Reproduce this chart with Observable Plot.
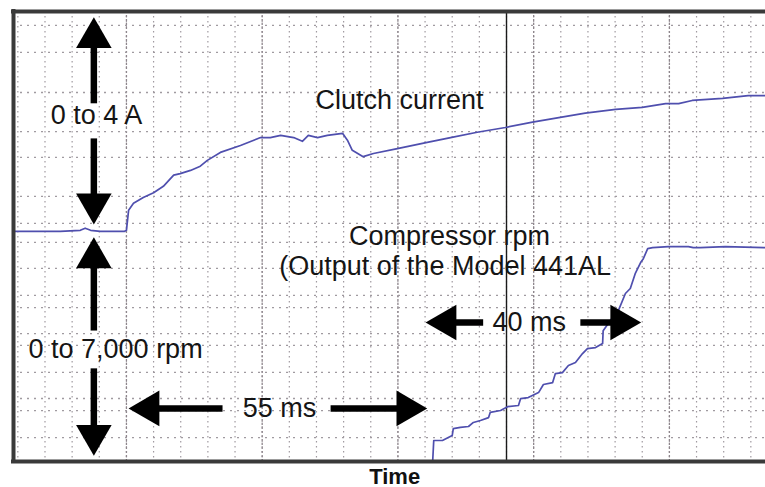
<!DOCTYPE html>
<html><head><meta charset="utf-8">
<script src="https://cdn.jsdelivr.net/npm/d3@7"></script>
<script src="https://cdn.jsdelivr.net/npm/@observablehq/plot@0.6"></script>
<style>html,body{margin:0;padding:0;background:#fff}</style>
</head><body><div id="chart"></div>
<script>
// ---- Trace data (time in ms, 0 = clutch energised) ----
const currentTime = [-20.8, -12.2, -8.5, -7.6, -6.6, -4.8, -0.4, 0, 0.4, 1.3, 3.1, 5.0, 6.8, 8.7, 9.9, 11.8, 13.6, 14.9, 17.3, 21.0, 24.7, 26.5, 28.4, 30.8, 32.4, 33.5, 35.2, 37.0, 39.8, 40.7, 41.6, 43.6, 45.5, 49.9, 55.4, 59.7, 64.6, 69.8, 74.8, 79.9, 84.5, 90.1, 95.0, 99.3, 101.7, 104.2, 109.8, 114.5, 117.7];
const currentAmps = [0.02, 0.02, 0.04, 0.08, 0.04, 0.02, 0.02, 0.04, 0.42, 0.55, 0.66, 0.75, 0.87, 1.08, 1.11, 1.17, 1.25, 1.36, 1.51, 1.64, 1.79, 1.79, 1.83, 1.79, 1.72, 1.83, 1.79, 1.83, 1.87, 1.74, 1.55, 1.43, 1.49, 1.58, 1.70, 1.79, 1.89, 1.98, 2.08, 2.17, 2.25, 2.32, 2.36, 2.43, 2.43, 2.49, 2.53, 2.58, 2.58];
const rpmTime = [56.4, 56.6, 58.2, 60.0, 60.2, 61.5, 63.0, 63.9, 65.2, 66.7, 67.0, 68.9, 70.2, 72.2, 72.6, 74.0, 75.9, 76.8, 78.5, 79.0, 80.3, 81.4, 82.7, 84.0, 84.9, 86.4, 87.7, 87.8, 89.1, 90.6, 91.9, 92.8, 93.7, 94.7, 95.2, 96.0, 96.9, 99.8, 103.5, 104.4, 105.7, 110.3, 117.7];
const rpmValue = [0, 650, 650, 805, 1020, 1055, 1085, 1210, 1270, 1360, 1520, 1580, 1700, 1735, 1950, 1980, 2135, 2385, 2445, 2725, 2755, 2975, 3065, 3345, 3500, 3530, 3655, 4055, 4365, 4675, 5205, 5360, 5820, 6165, 6285, 6595, 6625, 6660, 6660, 6625, 6625, 6660, 6625];

// ---- Screen (oscilloscope divisions, 0 = bottom, 10 = top) ----
const timeDomain = [-20.8, 117.7];
const divDomain = [0, 10];
const gridTimes = [-20, -15, -10, -5, 0, 5, 10, 15, 20, 25, 30, 35, 40, 45, 50, 55, 60, 65, 70, 75, 80, 85, 90, 95, 100, 105, 110, 115];
const majorTimes = [0, 25, 50, 75, 100];
const gridDivs = [9.69, 9.09, 8.20, 7.33, 6.76, 5.89, 5.29, 4.87, 4.29, 3.69, 3.42, 2.84, 2.58, 1.98, 1.40, 1.13, 0.53];
const cursorTime = [70];
// channel offsets / gains (divisions)
const ampZero = 5.09, divPerAmp = 1.178;
const divPer7000rpm = 5.02;

// ---- Annotations ----
const labels = [
  {t: -5.5, d: 7.69, text: "0 to 4 A"},
  {t: 50.3, d: 8.02, text: "Clutch current"},
  {t: 59.5, d: 5.00, text: "Compressor rpm"},
  {t: 58.7, d: 4.33, text: "(Output of the Model 441AL"},
  {t: -2.0, d: 2.49, text: "0 to 7,000 rpm"},
  {t: 28.2, d: 1.18, text: "55 ms"},
  {t: 74.2, d: 3.09, text: "40 ms"}
];
const shafts = [
  {t1: -6, d1: 9.36, t2: -6, d2: 7.96},
  {t1: -6, d1: 7.18, t2: -6, d2: 5.73},
  {t1: -6, d1: 4.53, t2: -6, d2: 2.91},
  {t1: -6, d1: 2.07, t2: -6, d2: 0.58},
  {t1: 3.5, d1: 1.18, t2: 17.7, d2: 1.18},
  {t1: 37.6, d1: 1.18, t2: 52.3, d2: 1.18},
  {t1: 58.7, d1: 3.09, t2: 65.7, d2: 3.09},
  {t1: 83.6, d1: 3.09, t2: 91.0, d2: 3.09}
];
const headsUp = [{t: -6, d: 9.87}, {t: -6, d: 4.98}];
const headsDown = [{t: -6, d: 5.27}, {t: -6, d: 0.13}];
const headsLeft = [{t: 0.4, d: 1.18}, {t: 55.1, d: 3.09}];
const headsRight = [{t: 55.4, d: 1.18}, {t: 94.8, d: 3.09}];
const xTitle = ["Time"];

const current = currentTime.map((t, i) => ({t, d: ampZero + currentAmps[i] * divPerAmp}));
const rpm = rpmTime.map((t, i) => ({t, d: rpmValue[i] / 7000 * divPer7000rpm}));

const font = "'Liberation Sans', Arial, Helvetica, sans-serif";
const headR = 13.2, tipOff = 20.5;
const traceColor = "#4f4fae";

const chart = Plot.plot({
  width: 765, height: 487,
  marginLeft: 13, marginRight: 0, marginTop: 11, marginBottom: 26,
  x: {domain: timeDomain, axis: null},
  y: {domain: divDomain, axis: null},
  style: {fontFamily: font, background: "#fff", overflow: "visible"},
  marks: [
    Plot.ruleX(gridTimes, {stroke: "#a09aa0", strokeWidth: 1.2, strokeDasharray: "1.5,3.5"}),
    Plot.ruleX(majorTimes, {stroke: "#8e868c", strokeWidth: 1.3, strokeDasharray: "2,2"}),
    Plot.ruleY(gridDivs, {stroke: "#a09aa0", strokeWidth: 1.3, strokeDasharray: "2,5"}),
    Plot.ruleX(cursorTime, {stroke: "#1a1a1a", strokeWidth: 1.4}),
    Plot.line(current, {x: "t", y: "d", stroke: traceColor, strokeWidth: 1.7}),
    Plot.line(rpm, {x: "t", y: "d", stroke: traceColor, strokeWidth: 1.7}),
    Plot.link(shafts, {x1: "t1", y1: "d1", x2: "t2", y2: "d2", stroke: "#000", strokeWidth: 6.5}),
    Plot.dot(headsUp, {x: "t", y: "d", symbol: "triangle", r: headR, fill: "#000", stroke: "none", dy: tipOff}),
    Plot.dot(headsDown, {x: "t", y: "d", symbol: "triangle", r: headR, fill: "#000", stroke: "none", rotate: 180, dy: -tipOff}),
    Plot.dot(headsLeft, {x: "t", y: "d", symbol: "triangle", r: headR, fill: "#000", stroke: "none", rotate: -90, dx: tipOff}),
    Plot.dot(headsRight, {x: "t", y: "d", symbol: "triangle", r: headR, fill: "#000", stroke: "none", rotate: 90, dx: -tipOff}),
    Plot.text(labels, {x: "t", y: "d", text: "text", fontSize: 27, fill: "#151515", textAnchor: "middle", lineAnchor: "middle"}),
    Plot.ruleX([timeDomain[0]], {stroke: "#3a3a3a", strokeWidth: 4, strokeLinecap: "square"}),
    Plot.ruleY([divDomain[0], divDomain[1]], {stroke: "#3a3a3a", strokeWidth: 4, strokeLinecap: "square"}),
    Plot.text(xTitle, {x: [49.4], frameAnchor: "bottom", dy: 15, fontSize: 22, fontWeight: "bold", fill: "#111", lineAnchor: "middle"})
  ]
});
document.getElementById("chart").appendChild(chart);
</script>
</body></html>
